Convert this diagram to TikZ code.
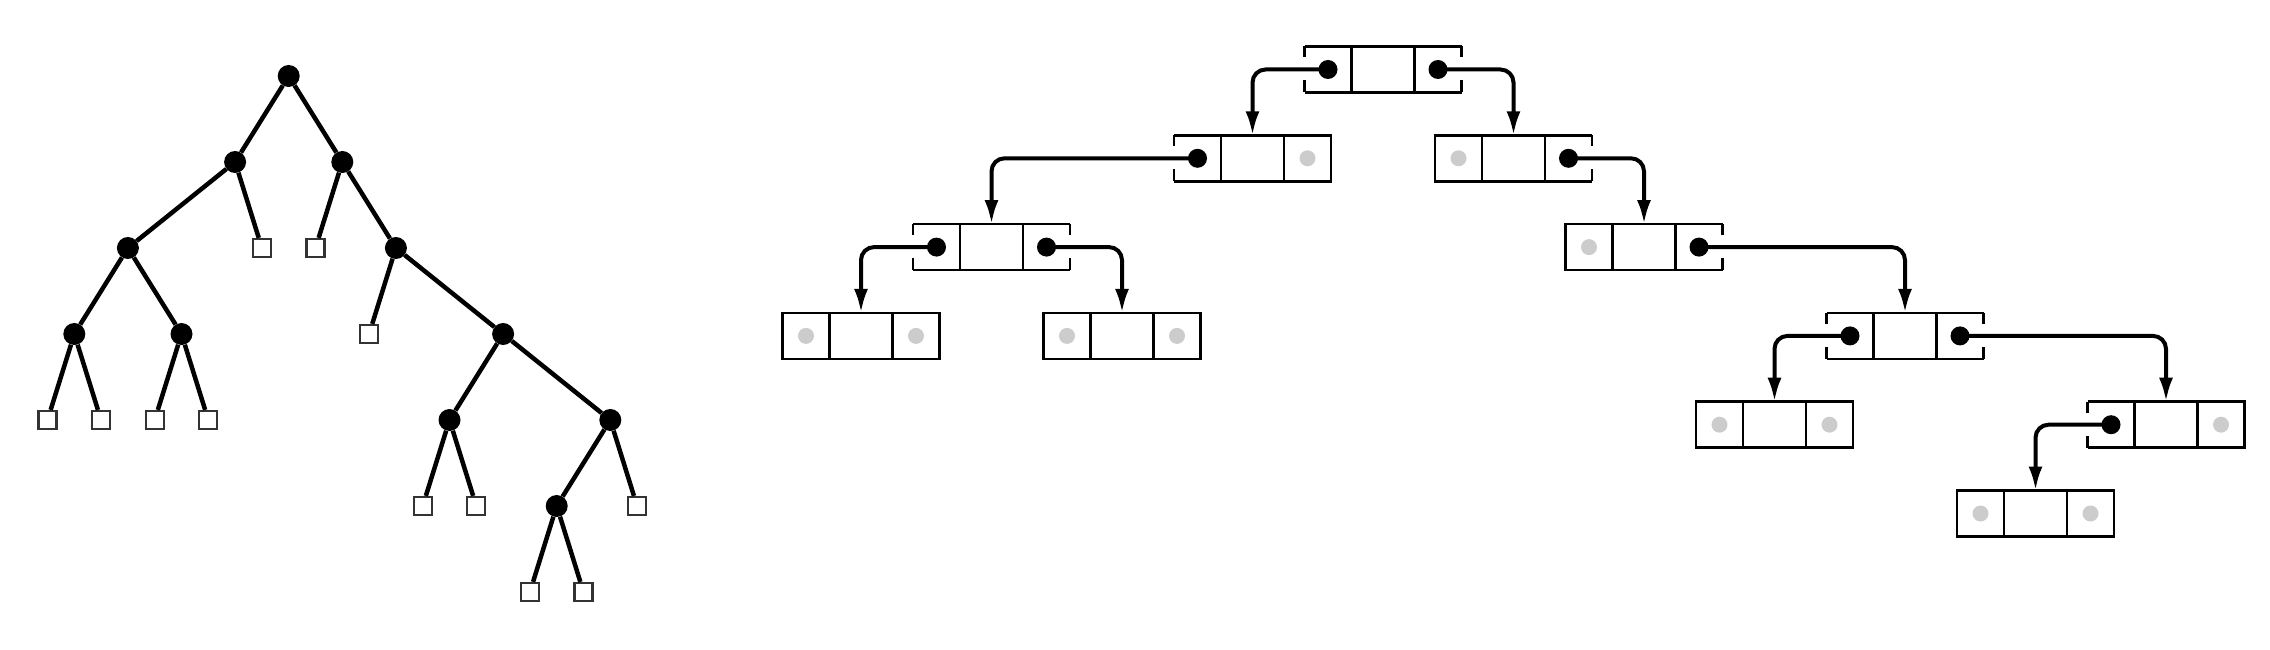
\documentclass[tikz,border=0pt]{standalone}
\usepackage{tikz}
\usetikzlibrary{positioning,arrows.meta}

\definecolor{nullgray}{gray}{0.8}

\begin{document}
\begin{tikzpicture}[x=1pt, y=-1pt]
        % Styles
        \tikzstyle{dot} = [circle, fill=black, minimum size=22pt, inner sep=0pt]
        \tikzstyle{leaf} = [rectangle, draw=black!80, line width=2.2pt, fill=white, minimum size=18pt, inner sep=0pt]
        \tikzstyle{branch} = [draw, line width=4.5pt]
        \tikzstyle{midcell} = [rectangle, draw, line width=2.5pt, minimum width=63pt, minimum height=46pt, inner sep=0pt, outer sep=0pt]
        \tikzstyle{sidecell} = [rectangle, minimum width=47pt, minimum height=46pt, inner sep=0pt, outer sep=0pt]
        \tikzstyle{pointer} = [draw, line width=4pt, rounded corners=13pt, -{Latex[length=24pt,width=14pt]}]

        \useasboundingbox (0,0) rectangle (2270,650);

        % Tree: internal nodes and leaves
        \foreach \k/\d in {9/0, 7/1, 11/1, 3/2, 13/2, 1/3, 5/3, 17/3, 15/4, 21/4, 19/5}
            \node [dot] (n\k) at ({47.5+26.8*\k}, {76+86*\d}) {};
        \foreach \k/\d in {8/2, 10/2, 12/3, 0/4, 2/4, 4/4, 6/4, 14/5, 16/5, 22/5, 18/6, 20/6}
            \node [leaf] (l\k) at ({47.5+26.8*\k}, {76+86*\d}) {};

        % Tree edges
        \foreach \a/\b in {n9/n7, n9/n11, n7/n3, n7/l8, n11/l10, n11/n13, n3/n1, n3/n5,
                n13/l12, n13/n17, n1/l0, n1/l2, n5/l4, n5/l6, n17/n15, n17/n21,
                n15/l14, n15/l16, n21/n19, n21/l22, n19/l18, n19/l20}
            \path [branch] (\a) -- (\b);

        % Linked boxes
        \foreach \n/\s/\d in {F/0/3, D/1/2, G/2/3, B/3/1, A/4/0, C/5/1, E/6/2, I/7/4, H/8/3, K/9/5, J/10/4} {
            \node [midcell] (\n) at ({861+130.5*\s}, {69.5+88.8*\d}) {};
            \node [sidecell, left=0pt of \n] (\n-l) {};
            \node [sidecell, right=0pt of \n] (\n-r) {};
        }

        % Empty links
        \foreach \c in {B-r, C-l, E-l, F-l, F-r, G-l, G-r, I-l, I-r, J-r, K-l, K-r} {
            \draw [line width=2.5pt] (\c.south west) rectangle (\c.north east);
            \fill [nullgray] (\c) circle [radius=8pt];
        }

        % Link cells, open where the pointer leaves
        \foreach \c in {A-l, A-r, B-l, C-r, D-l, D-r, E-r, H-l, H-r, J-l}
            \draw [line width=2.5pt] (\c.north west) -- (\c.north east) (\c.south west) -- (\c.south east)
                (\c.north west) -- ++(0,11) (\c.north east) -- ++(0,11)
                (\c.south west) -- ++(0,-12) (\c.south east) -- ++(0,-12);

        % Pointers
        \path [pointer] (A-l.center) -| (B.north);
        \path [pointer] (A-r.center) -| (C.north);
        \path [pointer] (B-l.center) -| (D.north);
        \path [pointer] (C-r.center) -| (E.north);
        \path [pointer] (D-l.center) -| (F.north);
        \path [pointer] (D-r.center) -| (G.north);
        \path [pointer] (E-r.center) -| (H.north);
        \path [pointer] (H-l.center) -| (I.north);
        \path [pointer] (H-r.center) -| (J.north);
        \path [pointer] (J-l.center) -| (K.north);

        \foreach \c in {A-l, A-r, B-l, C-r, D-l, D-r, E-r, H-l, H-r, J-l}
            \fill (\c) circle [radius=9.5pt];
    \end{tikzpicture}
\end{document}
